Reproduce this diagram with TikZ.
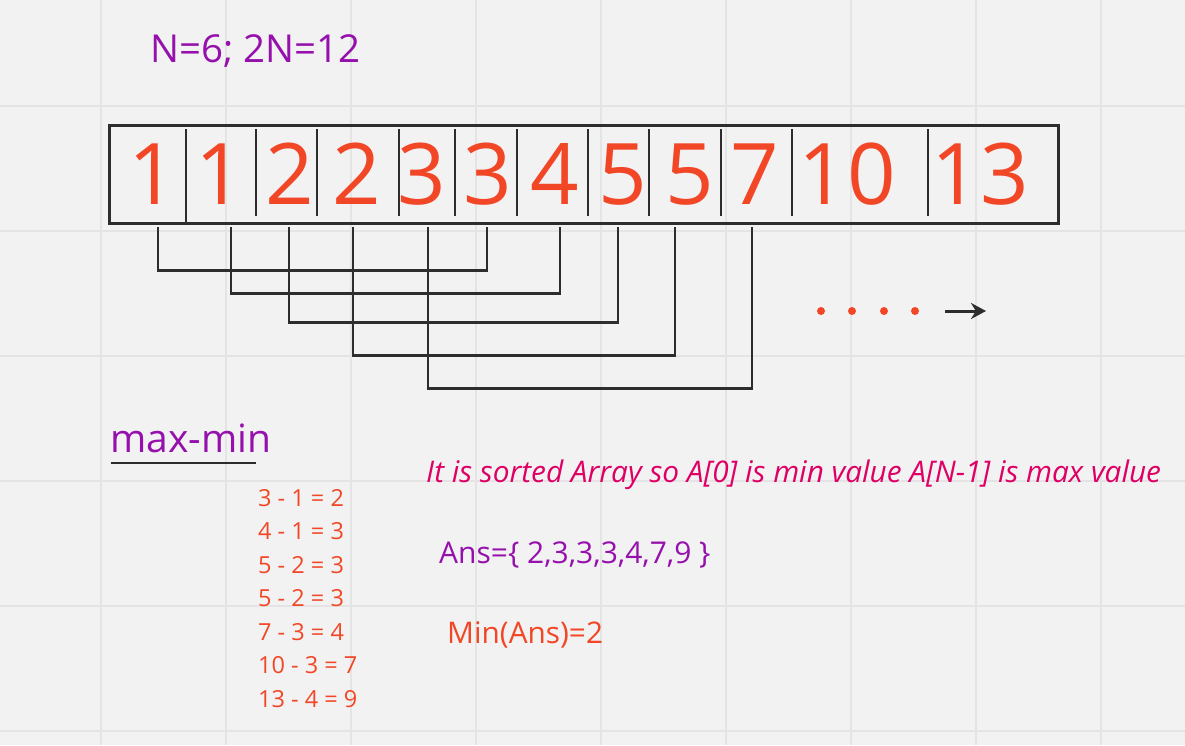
\documentclass[tikz,border=0pt]{standalone}
\usepackage{fontspec}
\setmainfont{Open Sans}
\usetikzlibrary{arrows.meta}
\definecolor{bgray}{RGB}{242,242,242}
\definecolor{gridgray}{RGB}{228,228,228}
\definecolor{mypurple}{RGB}{149,16,172}
\definecolor{myred}{RGB}{242,71,38}
\definecolor{mypink}{RGB}{222,0,100}
\definecolor{linegray}{RGB}{45,45,45}

\begin{document}
\begin{tikzpicture}[x=1pt, y=-1pt, >={Stealth[length=15pt,width=16pt]},
		cell/.style={myred, inner sep=0pt, anchor=base, font=\fontsize{85}{90}\selectfont},
		link/.style={linegray, line width=2.7pt},
		txt/.style={inner sep=0pt, anchor=base west},
		diff/.style={txt, myred, font=\fontsize{23.5}{28}\selectfont}]
	% Hintergrund und Raster
	\fill[bgray] (0,0) rectangle (1185,745);
	\useasboundingbox (0,0) rectangle (1185,745);
	\foreach \x in {101,226,...,1101} \draw[gridgray, line width=1.5pt] (\x,0) -- (\x,745);
	\foreach \y in {106,231,...,731} \draw[gridgray, line width=1.5pt] (0,\y) -- (1185,\y);
	% Titel
	\node[txt, mypurple, font=\fontsize{38.5}{44}\selectfont] (title) at (150,62) {N=6; 2N=12};
	% Array
	\node[draw=linegray, line width=2.7pt, minimum width=949pt, minimum height=98pt, inner sep=0pt, anchor=north west] (arr) at (108,124) {};
	\draw[linegray, line width=2.2pt] (186,129) -- (186,222);
	\foreach \x in {256,317,399,455,517,588,649,721,792,928} \draw[linegray, line width=2.2pt] (\x,129) -- (\x,216);
	\foreach \x/\v [count=\i from 0] in {153/1,220/1,290/2,357/2,422/3,488/3,555/4,623/5,690/5,755/7,847/10,980/13}
		\node[cell] (c\i) at (\x,204) {\v};
	% Paare verbinden
	\foreach \a/\b/\da/\db/\d in {0/5/5/-1/44, 1/6/11/5/67, 2/7/-1/-5/96, 3/8/-4/-15/129, 4/9/6/-3/162}
		\draw[link] ([xshift=\da, yshift=-2]c\a |- arr.south) -- ++(0,\d) -| ([xshift=\db, yshift=-2]c\b |- arr.south);
	% und so weiter
	\foreach \x in {821,852,884,915} \fill[myred] (\x,311) circle (4pt);
	\coordinate (more) at (945,311);
	\coordinate (moreend) at (986,311);
	\draw[->, linegray, line width=3pt] (more) -- (moreend);
	% max-min
	\node[txt, mypurple, font=\fontsize{39}{44}\selectfont] (mm) at (110,452) {max-min};
	\draw[linegray, line width=2.5pt] (111,463) -- (256,463);
	\foreach \t [count=\k from 0] in {3 - 1 = 2, 4 - 1 = 3, 5 - 2 = 3, 5 - 2 = 3, 7 - 3 = 4, 10 - 3 = 7, 13 - 4 = 9}
		\node[diff] (d\k) at (258,{506+33.5*\k}) {\t};
	% Erklaerung
	\node[txt, mypink, font=\fontsize{29.8}{34}\selectfont\itshape] (note) at (426,482) {It is sorted Array so A[0] is min value A[N-1] is max value};
	\node[txt, mypurple, font=\fontsize{30}{34}\selectfont] (ans) at (439,563) {Ans=\{ 2,3,3,3,4,7,9 \}};
	\node[txt, myred, font=\fontsize{29.8}{34}\selectfont] (minans) at (447,643) {Min(Ans)=2};
\end{tikzpicture}
\end{document}
